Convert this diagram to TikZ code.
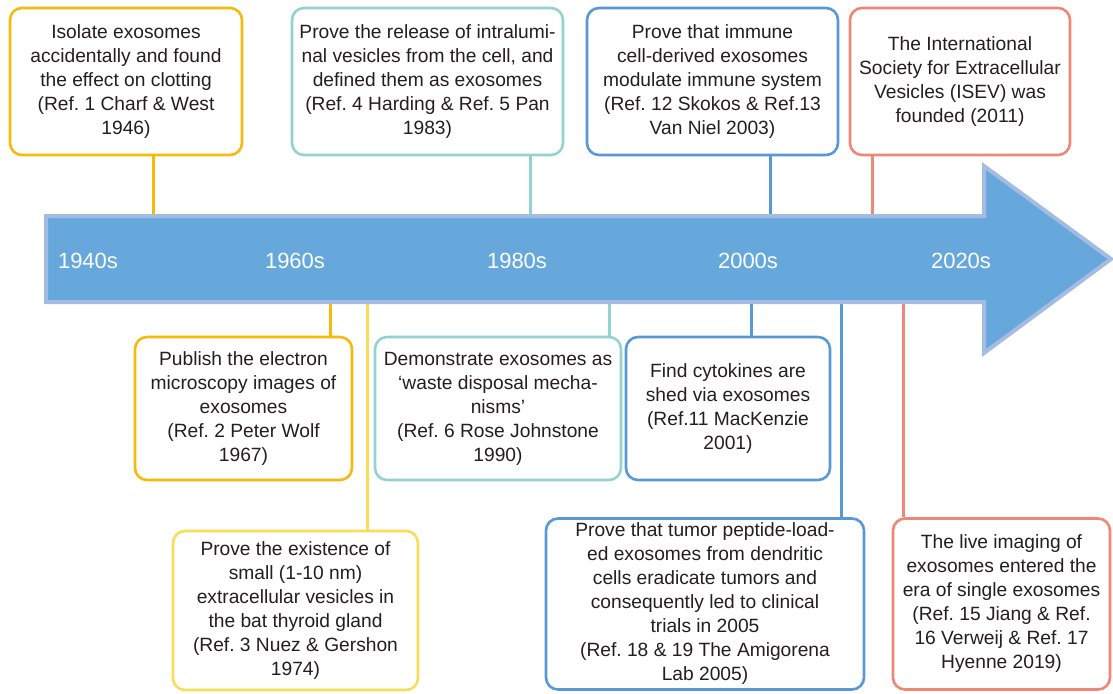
\documentclass[tikz,border=0pt]{standalone}
\usepackage{fontspec}
\setmainfont{Liberation Sans}
\usepackage{tikz}
\usetikzlibrary{positioning, calc}
\definecolor{evyellow}{RGB}{245,186,12}
\definecolor{evlight}{RGB}{249,220,88}
\definecolor{evteal}{RGB}{146,210,210}
\definecolor{evblue}{RGB}{88,152,212}
\definecolor{evsalmon}{RGB}{239,134,118}
\definecolor{arrfill}{RGB}{102,168,219}
\definecolor{arredge}{RGB}{164,188,226}
\definecolor{evtext}{RGB}{35,31,32}
\frenchspacing
\tikzset{
  event/.style={rectangle, rounded corners=12pt, line width=2.6pt,
    fill=white, align=center, text=evtext, inner sep=0pt,
    font=\fontsize{19.2}{24}\selectfont,
    execute at begin node={\rule{0pt}{28pt}}},
  yelbox/.style={event, draw=evyellow},
  lightbox/.style={event, draw=evlight},
  tealbox/.style={event, draw=evteal},
  bluebox/.style={event, draw=evblue},
  salmonbox/.style={event, draw=evsalmon},
  stem/.style={line width=3pt},
  decade/.style={text=white, font=\fontsize{22}{26}\selectfont}
}

\begin{document}
\begin{tikzpicture}[x=1pt, y=-1pt]
  \useasboundingbox (0,0) rectangle (1113,693);

  % events above the arrow
  \node[yelbox, minimum width=232pt, minimum height=147pt] (e1946) at (126,81.5)
    {Isolate exosomes\\accidentally and found\\the effect on clotting\\(Ref. 1 Charf \& West\\1946)};
  \node[tealbox, minimum width=271pt, minimum height=147pt] (e1983) at (427.5,81.5)
    {Prove the release of intralumi-\\nal vesicles from the cell, and\\defined them as exosomes\\(Ref. 4 Harding \& Ref. 5 Pan\\1983)};
  \node[bluebox, minimum width=251pt, minimum height=147pt] (e2003) at (712.5,81.5)
    {Prove that immune\\cell-derived exosomes\\modulate immune system\\(Ref. 12 Skokos \& Ref.13\\Van Niel 2003)};
  \node[salmonbox, minimum width=220pt, minimum height=147pt] (e2011) at (960,81.5)
    {The International\\Society for Extracellular\\Vesicles (ISEV) was\\founded (2011)};

  % events below the arrow
  \node[yelbox, minimum width=217pt, minimum height=143pt] (e1967) at (243.5,408.5)
    {Publish the electron\\microscopy images of\\exosomes\\(Ref. 2 Peter Wolf\\1967)};
  \node[tealbox, minimum width=246pt, minimum height=143pt] (e1990) at (498,408.5)
    {Demonstrate exosomes as\\‘waste disposal mecha-\\nisms’\\(Ref. 6 Rose Johnstone\\1990)};
  \node[bluebox, minimum width=204pt, minimum height=143pt] (e2001) at (728,408.5)
    {Find cytokines are\\shed via exosomes\\(Ref.11 MacKenzie\\2001)};
  \node[lightbox, minimum width=245pt, minimum height=159pt] (e1974) at (295.5,610.5)
    {Prove the existence of\\small (1-10 nm)\\extracellular vesicles in\\the bat thyroid gland\\(Ref. 3 Nuez \& Gershon\\1974)};
  \node[bluebox, minimum width=318pt, minimum height=171pt] (e2005) at (705,604)
    {Prove that tumor peptide-load-\\ed exosomes from dendritic\\cells eradicate tumors and\\consequently led to clinical\\trials in 2005\\(Ref. 18 \& 19 The Amigorena\\Lab 2005)};
  \node[salmonbox, minimum width=217pt, minimum height=171pt] (e2019) at (1001.5,604)
    {The live imaging of\\exosomes entered the\\era of single exosomes\\(Ref. 15 Jiang \& Ref.\\16 Verweij \& Ref. 17\\Hyenne 2019)};

  % stems
  \coordinate (s1946) at (153,216);
  \coordinate (s1983) at (530,216);
  \coordinate (s2003) at (770,216);
  \coordinate (s2011) at (872,216);
  \coordinate (s1967) at (330,302);
  \coordinate (s1974) at (367,302);
  \coordinate (s1990) at (609,302);
  \coordinate (s2001) at (751,302);
  \coordinate (s2005) at (841,302);
  \coordinate (s2019) at (903,302);
  \draw[stem, evyellow] (s1946 |- e1946.south) -- (s1946);
  \draw[stem, evteal] (s1983 |- e1983.south) -- (s1983);
  \draw[stem, evblue] (s2003 |- e2003.south) -- (s2003);
  \draw[stem, evsalmon] (s2011 |- e2011.south) -- (s2011);
  \draw[stem, evyellow] (s1967) -- (s1967 |- e1967.north);
  \draw[stem, evlight] (s1974) -- (s1974 |- e1974.north);
  \draw[stem, evteal] (s1990) -- (s1990 |- e1990.north);
  \draw[stem, evblue] (s2001) -- (s2001 |- e2001.north);
  \draw[stem, evblue] (s2005) -- (s2005 |- e2005.north);
  \draw[stem, evsalmon] (s2019) -- (s2019 |- e2019.north);

  % timeline arrow
  \draw[fill=arrfill, draw=arredge, line width=4pt, line join=miter]
    (46,216) -- (984,216) -- (984,166) -- (1111,259) -- (984,353)
    -- (984,302) -- (46,302) -- cycle;

  \node[decade] (d1940) at (88,261) {1940s};
  \node[decade] (d1960) at (295,261) {1960s};
  \node[decade] (d1980) at (517,261) {1980s};
  \node[decade] (d2000) at (748,261) {2000s};
  \node[decade] (d2020) at (961,261) {2020s};
\end{tikzpicture}
\end{document}
